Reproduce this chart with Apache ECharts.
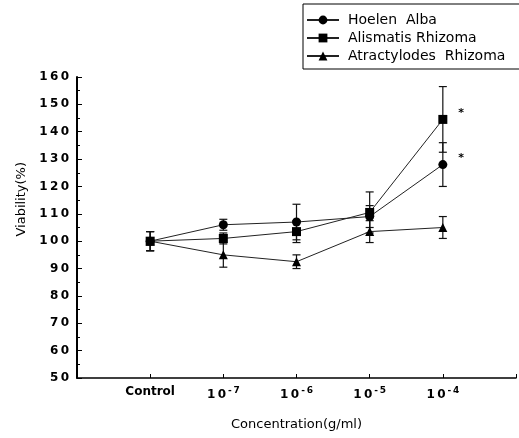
<!DOCTYPE html>
<html>
<head>
<meta charset="utf-8">
<script src="https://cdn.jsdelivr.net/npm/echarts@6/dist/echarts.min.js"></script>
<style>html,body{margin:0;padding:0;background:#fff}#c{width:519px;height:438px}</style>
</head>
<body>
<div id="c"></div>
<script>
// ---- data ----
const categories = ['Control', '10^-7', '10^-6', '10^-5', '10^-4'];
const xPositions = [1, 2, 3, 4, 5];
const hoelen = [100, 106, 107, 109, 128];
const hoelenErr = [3.5, 2, 6.5, 4, 8];
const hoelenSig = ['', '', '', '', '*'];
const alismatis = [100, 101, 103.5, 110.5, 144.5];
const alismatisErr = [3.5, 2, 4, 7.5, 12];
const alismatisSig = ['', '', '', '', '*'];
const atractylodes = [100, 95, 92.5, 103.5, 105];
const atractylodesErr = [3.5, 4.5, 2.5, 4, 4];
const yTicks = [50, 60, 70, 80, 90, 100, 110, 120, 130, 140, 150, 160];

const FONT = 'DejaVu Sans';
const chart = echarts.init(document.getElementById('c'), null, {renderer: 'canvas'});

function lineSeries(name, vals, sig, symbol) {
  return {
    name: name, type: 'line', symbol: symbol, symbolSize: 9,
    data: vals.map((v, i) => {
      const d = {value: [xPositions[i], v]};
      if (sig && sig[i]) {
        d.label = {show: true, formatter: sig[i], position: 'right', distance: 11, offset: [0, -6],
          color: '#000', fontSize: 11, fontFamily: FONT, fontWeight: 'bold'};
      }
      return d;
    }),
    lineStyle: {color: '#222', width: 1},
    itemStyle: {color: '#000'},
    z: 3
  };
}
function errSeries(vals, errs) {
  return {
    type: 'custom', silent: true, z: 2,
    data: vals.map((v, i) => [xPositions[i], v - errs[i], v + errs[i]]),
    renderItem: function (params, api) {
      const lo = api.coord([api.value(0), api.value(1)]);
      const hi = api.coord([api.value(0), api.value(2)]);
      const w = 4;
      const st = {stroke: '#111', lineWidth: 1.2};
      return {type: 'group', children: [
        {type: 'line', shape: {x1: lo[0], y1: lo[1], x2: hi[0], y2: hi[1]}, style: st},
        {type: 'line', shape: {x1: lo[0] - w, y1: lo[1], x2: lo[0] + w, y2: lo[1]}, style: st},
        {type: 'line', shape: {x1: hi[0] - w, y1: hi[1], x2: hi[0] + w, y2: hi[1]}, style: st}
      ]};
    }
  };
}

const spaced = s => String(s).split('').join('\u2009');

chart.setOption({
  animation: false,
  backgroundColor: '#fff',
  grid: {left: 77, right: 3, top: 77, bottom: 60},
  legend: {
    left: 303, top: 4, orient: 'vertical', itemGap: 4, itemWidth: 32, itemHeight: 11,
    padding: [9, 40, 6, 3],
    borderColor: '#000', borderWidth: 1,
    textStyle: {fontFamily: FONT, fontSize: 14, color: '#000', padding: [0, 0, 0, 4]},
    data: ['Hoelen  Alba', 'Alismatis Rhizoma', 'Atractylodes  Rhizoma']
  },
  xAxis: {
    type: 'value', min: 0, max: 6, interval: 1,
    name: 'Concentration(g/ml)', nameLocation: 'middle', nameGap: 40,
    nameTextStyle: {fontFamily: FONT, fontSize: 13, color: '#000'},
    axisLine: {lineStyle: {color: '#000', width: 1.5}},
    axisTick: {inside: true, length: 4, lineStyle: {color: '#000'}},
    splitLine: {show: false},
    axisLabel: {
      margin: 8,
      formatter: function (v) {
        const i = xPositions.indexOf(v);
        if (i < 0) return '';
        const c = categories[i];
        if (c.indexOf('^') >= 0) {
          const p = c.split('^');
          return '{b|' + spaced(p[0]) + '}{s|' + spaced(p[1]) + '}';
        }
        return '{b|' + c + '}';
      },
      rich: {
        b: {fontFamily: FONT, fontSize: 12, fontWeight: 'bold', color: '#000'},
        s: {fontFamily: FONT, fontSize: 9, fontWeight: 'bold', color: '#000', verticalAlign: 'top', padding: [0, 0, 8, 2]}
      }
    }
  },
  yAxis: {
    type: 'value', min: yTicks[0], max: yTicks[yTicks.length - 1], interval: 10,
    axisLine: {show: true, lineStyle: {color: '#000', width: 2}},
    axisTick: {show: true, inside: true, length: 5, lineStyle: {color: '#000'}},
    minorTick: {show: true, splitNumber: 2, length: 3, lineStyle: {color: '#000'}},
    splitLine: {show: false},
    axisLabel: {
      margin: 8, fontFamily: FONT, fontSize: 12, fontWeight: 'bold', color: '#000',
      formatter: v => yTicks.indexOf(v) >= 0 ? spaced(v) : ''
    }
  },
  graphic: [{
    type: 'text', left: 15, top: 162, rotation: Math.PI / 2,
    style: {text: 'Viability(%)', fontFamily: FONT, fontSize: 13, fill: '#000'}
  }],
  series: [
    lineSeries('Hoelen  Alba', hoelen, hoelenSig, 'circle'),
    lineSeries('Alismatis Rhizoma', alismatis, alismatisSig, 'rect'),
    lineSeries('Atractylodes  Rhizoma', atractylodes, null, 'triangle'),
    errSeries(hoelen, hoelenErr),
    errSeries(alismatis, alismatisErr),
    errSeries(atractylodes, atractylodesErr)
  ]
});
</script>
</body>
</html>
